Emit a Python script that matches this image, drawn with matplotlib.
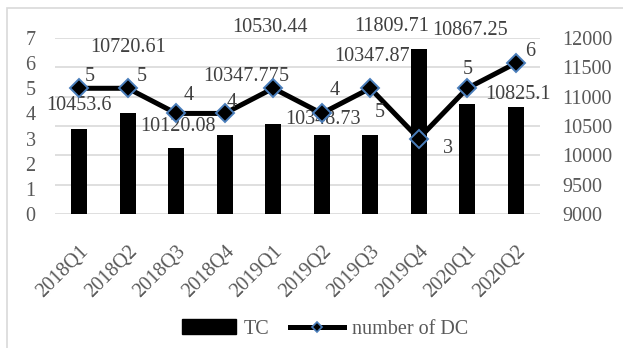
import numpy as np
import matplotlib
matplotlib.use("Agg")
import matplotlib.pyplot as plt
from matplotlib.patches import Rectangle, Patch
from matplotlib.lines import Line2D

plt.rcParams['font.family'] = ['Liberation Serif', 'DejaVu Serif']

quarters = ['2018Q1', '2018Q2', '2018Q3', '2018Q4', '2019Q1',
            '2019Q2', '2019Q3', '2019Q4', '2020Q1', '2020Q2']
tc = [10453.6, 10720.61, 10120.08, 10347.77, 10530.44,
      10348.73, 10347.87, 11809.71, 10867.25, 10825.1]
dc = [5, 5, 4, 4, 5, 4, 5, 3, 5, 6]

# label offsets in pixels (dx, dy) from the bar top / line point
tc_off = [(0, 23), (0, 66), (2, 22), (16, 58), (-3, 97),
          (1, 15), (2, 78), (-27, 23), (3, 74), (2, 12)]
dc_off = [(11, 12), (14, 12), (12, 18), (7, 11), (10, 12),
          (13, 23), (9, -24), (29, -10), (0, 19), (14, 12)]

grey = '#595959'
grid_c = '#d9d9d9'
blue = '#4a7ebb'

W, H = 623, 348
fig = plt.figure(figsize=(W / 100, H / 100), dpi=100)

# outer chart border
fig.patches.append(Rectangle((7 / W, -0.2), 1.2, 1.2 - 8 / H, transform=fig.transFigure,
                             fill=False, edgecolor=grid_c, lw=1.2))

ax = fig.add_axes([55 / W, 1 - 214 / H, 485 / W, 176 / H])
ax2 = ax.twinx()
x = np.arange(len(quarters))

ax2.bar(x, tc, width=0.33, color='black', zorder=2)
ax2.set_ylim(9000, 12000)
ax2.set_yticks(np.arange(9000, 12001, 500))
ax2.grid(axis='y', color=grid_c, lw=1.2)
ax2.set_axisbelow(True)

ax.plot(x, dc, color='black', lw=3.6, marker='D', ms=9,
        mfc='black', mec=blue, mew=1.4, zorder=3)
ax.set_ylim(0, 7)
ax.set_yticks(range(8))
ax.set_xlim(-0.5, len(quarters) - 0.5)
ax.set_zorder(ax2.get_zorder() + 1)
ax.patch.set_visible(False)

for a in (ax, ax2):
    for s in a.spines.values():
        s.set_visible(False)
    a.tick_params(length=0, labelsize=14.5, labelcolor=grey)
ax.tick_params(axis='y', pad=14)
ax2.tick_params(axis='y', pad=16)
for t in ax2.get_yticklabels():
    t.set_ha('left')

ax.set_xticks(x)
ax.set_xticklabels(quarters, rotation=45, ha='right', rotation_mode='anchor')
ax.tick_params(axis='x', pad=20)

for i, v in enumerate(tc):
    ax2.annotate(str(v), (x[i], v), xytext=tc_off[i], textcoords='offset pixels',
                 ha='center', va='center', fontsize=14.5, color='#404040', zorder=5)
for i, v in enumerate(dc):
    ax.annotate(str(v), (x[i], v), xytext=dc_off[i], textcoords='offset pixels',
                ha='center', va='center', fontsize=14.5, color='#404040', zorder=5)

handles = [Patch(facecolor='black', edgecolor='black'),
           Line2D([0], [0], color='black', lw=3.6, marker='D', ms=5,
                  mfc='black', mec=blue, mew=1.2)]
leg = fig.legend(handles, ['TC', 'number of DC'], loc='center', ncol=2,
                 bbox_to_anchor=(325 / W, 1 - 329 / H), frameon=False,
                 fontsize=14.5, handlelength=2.7, columnspacing=1.0, handletextpad=0.4)
for t in leg.get_texts():
    t.set_color(grey)

fig.savefig('out.png', dpi=100)
